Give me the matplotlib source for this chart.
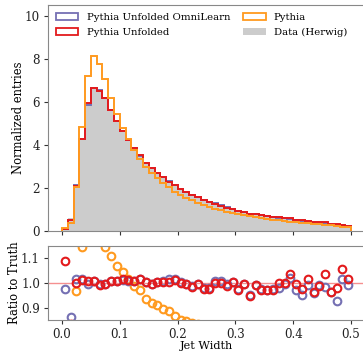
import numpy as np
import matplotlib
matplotlib.use('Agg')
import matplotlib.pyplot as plt
from matplotlib.patches import Patch

plt.rcParams['font.family'] = 'DejaVu Serif'
plt.rcParams['font.size'] = 8.3

# Jet width binning: 50 bins between 0 and 0.5
edges = np.linspace(0.0, 0.5, 51)
centers = 0.5 * (edges[1:] + edges[:-1])

# Data (Herwig) normalized histogram
herwig = [0.092, 0.60, 2.10, 4.22, 5.89, 6.58, 6.57, 6.19, 5.58, 5.07,
          4.59, 4.18, 3.80, 3.45, 3.16, 2.92, 2.69, 2.48, 2.28, 2.10,
          1.95, 1.81, 1.68, 1.56, 1.45, 1.35, 1.26, 1.17, 1.09, 1.02,
          0.95, 0.89, 0.84, 0.79, 0.74, 0.70, 0.66, 0.62, 0.58, 0.55,
          0.52, 0.49, 0.46, 0.43, 0.40, 0.37, 0.34, 0.30, 0.26, 0.20]

# Pythia (generator level) normalized histogram
pythia = [0.12, 0.37, 2.03, 4.83, 7.20, 8.13, 7.76, 7.09, 6.20, 5.43,
          4.80, 4.25, 3.75, 3.35, 2.96, 2.68, 2.45, 2.22, 2.02, 1.82,
          1.66, 1.53, 1.41, 1.30, 1.20, 1.11, 1.03, 0.95, 0.88, 0.82,
          0.76, 0.71, 0.665, 0.62, 0.58, 0.55, 0.515, 0.48, 0.45, 0.425,
          0.40, 0.375, 0.35, 0.325, 0.30, 0.28, 0.255, 0.225, 0.195, 0.15]

# Unfolded / truth ratios
ratio_unfolded = [1.088, 0.833, 1.000, 1.012, 1.007, 1.008, 0.992, 0.997, 1.008, 1.007,
                  1.015, 1.012, 1.008, 1.017, 1.005, 0.997, 1.003, 1.005, 1.004, 1.012,
                  0.999, 0.995, 0.984, 0.995, 0.977, 0.975, 1.001, 1.001, 0.988, 1.004,
                  0.972, 0.995, 0.949, 0.990, 0.970, 0.970, 0.972, 1.000, 1.000, 1.035,
                  0.995, 0.977, 1.015, 0.963, 0.988, 1.035, 0.963, 0.978, 1.055, 1.015]

ratio_omnilearn = [0.977, 0.863, 1.015, 1.015, 0.998, 1.008, 0.995, 0.998, 1.008, 1.007,
                   1.013, 1.010, 1.008, 1.015, 1.005, 0.998, 1.005, 1.010, 1.015, 1.015,
                   1.003, 0.997, 0.986, 0.995, 0.980, 0.978, 1.008, 1.010, 0.995, 1.006,
                   0.975, 0.995, 0.950, 0.990, 0.975, 0.972, 0.975, 0.978, 0.997, 1.020,
                   0.970, 0.952, 0.992, 0.960, 0.990, 0.982, 0.962, 0.928, 1.015, 0.990]

herwig = np.array(herwig)
pythia = np.array(pythia)
unfolded = herwig * np.array(ratio_unfolded)
omnilearn = herwig * np.array(ratio_omnilearn)

c_omni = '#7570b3'
c_unf = '#e31a1c'
c_py = '#ff9a1f'
c_data = '#cccccc'

fig = plt.figure(figsize=(3.63, 3.54), dpi=100)
ax = fig.add_axes([0.131, 0.3483, 0.876, 0.6384])
axr = fig.add_axes([0.131, 0.096, 0.876, 0.209], sharex=ax)

ax.stairs(herwig, edges, fill=True, color=c_data, lw=0)
ax.stairs(omnilearn, edges, color=c_omni, lw=1.4)
ax.stairs(unfolded, edges, color=c_unf, lw=1.4)
ax.stairs(pythia, edges, color=c_py, lw=1.4)

ax.set_xlim(-0.025, 0.525)
ax.set_ylim(0, 10.53)
ax.set_yticks([0, 2, 4, 6, 8, 10])
ax.set_ylabel('Normalized entries', labelpad=0)
ax.tick_params(labelbottom=False)

handles = [Patch(facecolor='none', edgecolor=c_omni, lw=1.3, label='Pythia Unfolded OmniLearn'),
           Patch(facecolor='none', edgecolor=c_unf, lw=1.3, label='Pythia Unfolded'),
           Patch(facecolor='none', edgecolor=c_py, lw=1.3, label='Pythia'),
           Patch(facecolor=c_data, edgecolor='none', label='Data (Herwig)')]
ax.legend(handles=handles, ncol=2, loc='upper left', frameon=False, fontsize=7.3,
          bbox_to_anchor=(0.0, 1.0), columnspacing=1.3, handlelength=2.2,
          borderaxespad=0.45, labelspacing=0.55)

axr.axhline(1.0, color='#f59090', lw=1.0)
mk = dict(marker='o', ls='none', mfc='none', ms=5.5, mew=1.5)
axr.plot(centers, pythia / herwig, color=c_py, **mk)
axr.plot(centers, ratio_omnilearn, color=c_omni, **mk)
axr.plot(centers, ratio_unfolded, color=c_unf, **mk)
axr.set_ylim(0.85, 1.15)
axr.set_yticks([0.9, 1.0, 1.1])
axr.set_xticks([0.0, 0.1, 0.2, 0.3, 0.4, 0.5])
axr.set_ylabel('Ratio to Truth', labelpad=0)

for a in (ax, axr):
    for s in a.spines.values():
        s.set_color('#888888')
    a.tick_params(colors='#333333', labelcolor='#222222', length=3, width=0.8,
                  labelsize=8.6, pad=2.5)

axr.set_xlabel('Jet Width', labelpad=0, fontsize=8.1)

fig.savefig('out.png', dpi=100)
